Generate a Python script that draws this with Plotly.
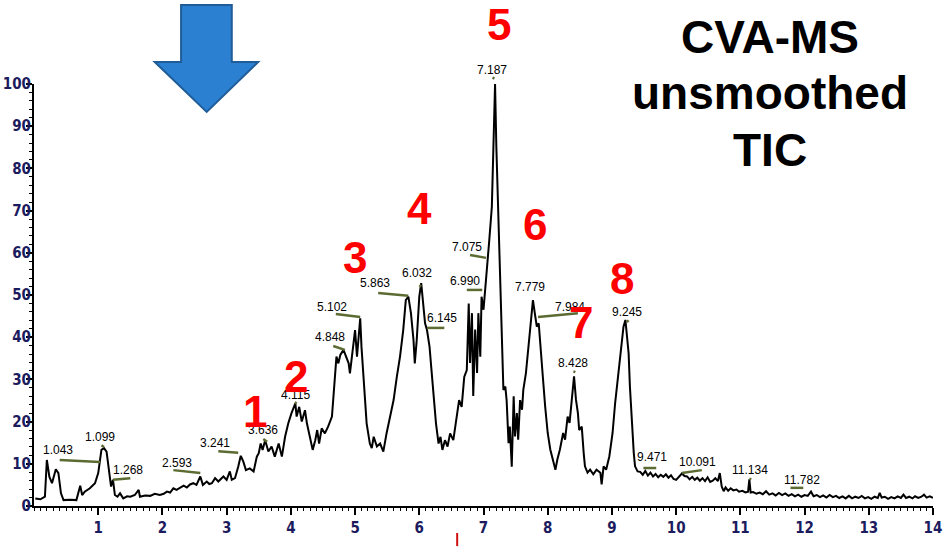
import plotly.graph_objects as go

# ---------------- data ----------------
retention_time = (
    [0.02, 0.10, 0.17, 0.20, 0.24, 0.28, 0.34, 0.38, 0.42, 0.46, 0.56, 0.66, 0.72, 0.75, 0.79, 0.87, 0.95, 1.00]
    + [1.05, 1.09, 1.13, 1.17, 1.20, 1.23, 1.26, 1.30, 1.34, 1.39, 1.45, 1.50, 1.57, 1.63, 1.65, 1.73, 1.81, 1.88, 1.96]
    + [2.02, 2.07, 2.12, 2.17, 2.22, 2.28, 2.33, 2.38, 2.43, 2.48, 2.53, 2.59, 2.63, 2.69, 2.73, 2.77, 2.82, 2.87, 2.91, 2.95, 3.00]
    + [3.05, 3.08, 3.13, 3.18, 3.22, 3.26, 3.30, 3.36, 3.42, 3.47, 3.50]
    + [3.53, 3.56, 3.60, 3.65, 3.70, 3.75, 3.81, 3.86, 3.91, 3.96, 4.01, 4.07, 4.09, 4.13, 4.17, 4.22, 4.25, 4.30, 4.34, 4.38, 4.41, 4.44, 4.48, 4.53, 4.58, 4.64, 4.66]
    + [4.69, 4.71, 4.74, 4.77, 4.82, 4.86, 4.90, 4.92, 4.95, 4.97, 5.00, 5.03, 5.05, 5.08, 5.10, 5.13, 5.16, 5.18, 5.23, 5.26, 5.29, 5.34, 5.39, 5.44, 5.49]
    + [5.54, 5.60, 5.65, 5.70, 5.75, 5.79, 5.83, 5.87, 5.91, 5.93, 5.96, 6.00, 6.03, 6.06, 6.09, 6.12, 6.16, 6.19, 6.22, 6.26, 6.30]
    + [6.33, 6.36, 6.40, 6.44, 6.48, 6.53, 6.58, 6.62, 6.66, 6.70, 6.74, 6.77]
    + [6.79, 6.82, 6.84, 6.87, 6.90, 6.92, 6.95, 6.97, 7.00, 7.03, 7.06, 7.09, 7.13, 7.16, 7.18]
    + [7.20, 7.23, 7.26, 7.28, 7.31, 7.34, 7.36, 7.39, 7.41, 7.44, 7.47, 7.49, 7.52, 7.54, 7.57, 7.60, 7.62, 7.66, 7.70, 7.74]
    + [7.77, 7.80, 7.83, 7.86, 7.88, 7.92, 7.96, 8.00, 8.04, 8.08, 8.12, 8.15, 8.19, 8.24, 8.27, 8.31, 8.34, 8.37, 8.41]
    + [8.44, 8.47, 8.49, 8.53, 8.56, 8.58, 8.62, 8.66, 8.71, 8.76, 8.82, 8.84, 8.87, 8.91, 8.96, 9.01, 9.05, 9.09, 9.12, 9.15, 9.18]
    + [9.21, 9.23, 9.26, 9.28, 9.31, 9.34, 9.36, 9.40]
    + [9.44, 9.48, 9.52, 9.56, 9.60, 9.64, 9.68, 9.72, 9.76, 9.80, 9.84, 9.88, 9.92, 9.96, 10.00, 10.04, 10.09, 10.13, 10.17, 10.21, 10.25, 10.29, 10.33, 10.37, 10.41, 10.45, 10.49, 10.53, 10.57, 10.61, 10.65, 10.68]
    + [10.71, 10.74, 10.77, 10.81, 10.85, 10.89, 10.94, 10.98, 11.03, 11.08, 11.12, 11.14, 11.16, 11.20, 11.25, 11.30, 11.35, 11.40, 11.45, 11.50, 11.55, 11.60, 11.65, 11.70, 11.75, 11.80, 11.85, 11.90, 11.95, 12.00]
    + [12.05, 12.10, 12.14, 12.19, 12.24, 12.29, 12.34, 12.39, 12.44, 12.49, 12.54, 12.59, 12.64, 12.69, 12.74, 12.79, 12.84, 12.89, 12.94, 12.99]
    + [13.04, 13.09, 13.14, 13.17, 13.20, 13.25, 13.30, 13.35, 13.40, 13.45, 13.50, 13.54, 13.58, 13.63, 13.68, 13.72, 13.77, 13.82, 13.86, 13.90, 13.95, 14.00]
)
intensity = (
    [1.8, 1.6, 2.2, 10.9, 6.9, 5.4, 8.7, 7.8, 3.0, 1.4, 1.5, 1.4, 4.8, 2.6, 3.4, 4.2, 5.4, 7.8]
    + [13.3, 13.7, 12.9, 7.8, 4.6, 6.2, 2.6, 2.2, 3.0, 1.8, 2.3, 2.2, 2.6, 3.8, 2.2, 2.5, 2.4, 2.9, 2.6]
    + [2.9, 3.4, 3.2, 4.2, 3.8, 4.3, 4.8, 4.4, 5.1, 5.4, 5.0, 7.0, 5.0, 5.8, 5.2, 5.4, 6.6, 5.8, 6.4, 7.0, 6.2]
    + [8.2, 6.2, 6.6, 9.3, 11.9, 10.5, 8.5, 8.9, 8.2, 11.7, 12.5]
    + [14.8, 13.3, 15.6, 12.9, 14.1, 11.7, 14.8, 11.7, 16.4, 19.6, 22.0, 24.3, 21.2, 23.5, 20.0, 22.7, 19.6, 16.4, 13.3, 15.6, 18.0, 14.8, 18.4, 17.2, 18.8, 21.2, 25.1]
    + [33.0, 35.4, 33.8, 35.8, 37.0, 35.4, 33.8, 31.4, 35.4, 38.5, 41.7, 35.4, 40.1, 44.5, 37.7, 30.6, 24.3, 19.6, 14.8, 13.7, 16.4, 14.1, 14.8, 12.9, 17.2]
    + [21.2, 25.1, 30.6, 35.4, 41.7, 48.8, 49.6, 45.7, 39.3, 33.8, 39.3, 49.6, 52.8, 48.8, 43.3, 41.7, 37.7, 32.2, 25.9, 19.6, 14.8]
    + [16.4, 13.3, 15.6, 14.1, 17.2, 15.6, 20.4, 25.1, 23.5, 30.6, 32.2, 48.0]
    + [33.9, 45.7, 26.1, 41.8, 31.5, 45.7, 35.4, 49.6, 46.5, 52.8, 56.7, 63.0, 70.9, 85.1, 100.0]
    + [85.2, 69.4, 53.6, 37.8, 27.5, 28.3, 25.1, 14.9, 18.8, 9.3, 26.0, 16.5, 22.0, 15.7, 25.1, 22.8, 27.5, 31.4, 37.8, 44.1]
    + [48.8, 45.6, 42.5, 43.3, 38.6, 31.4, 23.6, 17.3, 13.4, 11.0, 8.6, 11.0, 13.4, 17.3, 15.7, 21.2, 19.7, 24.4, 30.7]
    + [25.2, 22.0, 18.0, 18.8, 12.6, 9.4, 7.9, 8.6, 7.5, 8.6, 7.9, 5.1, 9.4, 8.6, 11.8, 17.3, 24.4, 29.9, 34.6, 39.4, 42.5]
    + [44.1, 41.5, 36.2, 28.3, 19.7, 12.6, 9.4, 8.2]
    + [8.1, 7.4, 8.3, 7.2, 7.9, 7.0, 7.6, 6.8, 7.4, 6.9, 7.5, 6.7, 7.3, 6.4, 6.2, 6.9, 7.7, 7.1, 7.0, 6.3, 6.9, 6.2, 6.7, 6.0, 6.6, 5.9, 6.8, 5.7, 6.0, 6.6, 5.9, 7.8]
    + [4.6, 3.5, 4.4, 3.6, 4.2, 3.7, 3.9, 3.4, 3.6, 3.2, 3.4, 6.3, 3.2, 3.3, 2.9, 3.2, 2.8, 3.5, 2.7, 3.0, 2.5, 3.1, 2.6, 3.0, 2.4, 2.8, 2.3, 2.7, 2.2, 2.6]
    + [2.4, 3.4, 2.3, 2.6, 2.1, 2.5, 2.0, 2.6, 2.1, 2.4, 1.9, 2.3, 1.8, 2.4, 1.8, 2.2, 1.9, 2.4, 1.8, 2.1]
    + [1.7, 2.2, 1.9, 3.1, 2.0, 2.2, 1.7, 2.1, 1.8, 2.3, 1.9, 2.7, 1.9, 2.2, 1.8, 2.3, 1.9, 2.2, 2.7, 2.0, 2.3, 1.9]
)
assert len(retention_time) == len(intensity)

x_tick_values = list(range(1, 15))
y_tick_values = list(range(0, 101, 10))

peak_label_texts = ["1.043", "1.099", "1.268", "2.593", "3.241", "3.636", "4.115", "4.848", "5.102",
                    "5.863", "6.032", "6.145", "6.990", "7.075", "7.187", "7.779", "7.984", "8.428",
                    "9.245", "9.471", "10.091", "11.134", "11.782"]
peak_numbers = ["1", "2", "3", "4", "5", "6", "7", "8"]
title_lines = ["CVA-MS", "unsmoothed", "TIC"]

# ---------------- layout positions (data units) ----------------
X_RANGE = [0, 14]
Y_RANGE = [0, 100]

peak_label_x = [0.37, 1.03, 1.46, 2.23, 2.82, 3.57, 4.07, 4.61, 4.64, 5.31, 5.97, 6.36, 6.71, 6.74,
                7.13, 7.73, 8.35, 8.40, 9.24, 9.63, 10.34, 11.15, 11.96]
peak_label_y = [13.3, 16.4, 8.5, 10.2, 14.9, 18.0, 26.3, 40.0, 47.2, 52.8, 55.2, 44.5, 53.3, 61.4,
                103.3, 51.9, 47.2, 33.9, 46.0, 11.6, 10.4, 8.5, 6.2]

# leader lines (x0, y0, x1, y1)
leader_lines = [
    (0.40, 10.9, 1.03, 10.4), (1.05, 14.4, 1.09, 14.0), (1.23, 6.2, 1.50, 6.6), (2.17, 8.5, 2.59, 7.8),
    (2.87, 13.0, 3.18, 12.6), (3.57, 15.9, 3.63, 15.2), (4.06, 24.6, 4.09, 24.3), (4.66, 37.9, 4.84, 37.0),
    (4.70, 45.5, 5.08, 44.8), (5.36, 50.5, 5.83, 49.8), (6.00, 52.3, 6.03, 52.0), (6.12, 42.2, 6.39, 42.2),
    (6.74, 51.2, 6.98, 51.2), (6.79, 59.5, 7.04, 58.8), (7.14, 101.5, 7.17, 101.3),
    (7.85, 44.8, 8.47, 45.7), (8.40, 31.9, 8.43, 31.7), (9.23, 44.0, 9.26, 43.6), (9.49, 9.0, 9.69, 9.0),
    (10.09, 7.8, 10.40, 8.5), (11.14, 6.5, 11.17, 6.3), (11.78, 4.3, 11.98, 4.3),
]

peak_number_x = [3.44, 4.08, 5.00, 6.00, 7.24, 7.80, 8.52, 9.16]
peak_number_y = [22.3, 30.8, 58.8, 70.6, 114.2, 66.6, 43.6, 54.0]

title_x = 11.46
title_y = [111.1, 97.9, 84.4]


def px(xv):
    return (xv - X_RANGE[0]) / (X_RANGE[1] - X_RANGE[0])


def py(yv):
    return (yv - Y_RANGE[0]) / (Y_RANGE[1] - Y_RANGE[0])


TICK_FONT = dict(family="Liberation Sans Narrow, DejaVu Sans Condensed, Arial Narrow, sans-serif",
                 size=15, color="#1b1b5e", weight="bold")

fig = go.Figure()
fig.add_trace(go.Scatter(x=retention_time, y=intensity, mode="lines",
                         line=dict(color="black", width=2), hoverinfo="skip", showlegend=False))

annotations = []
for t, xv, yv in zip(peak_label_texts, peak_label_x, peak_label_y):
    annotations.append(dict(text=t, x=px(xv), y=py(yv), xref="paper", yref="paper",
                            showarrow=False, xanchor="center", yanchor="middle",
                            font=dict(family="Liberation Sans, Arial, sans-serif", size=12, color="black")))
for t, xv, yv in zip(peak_numbers, peak_number_x, peak_number_y):
    annotations.append(dict(text=t, x=px(xv), y=py(yv), xref="paper", yref="paper",
                            showarrow=False, xanchor="center", yanchor="middle",
                            font=dict(family="Liberation Sans, Arial, sans-serif", size=44,
                                      color="#ff0000", weight="bold")))
for t, yv in zip(title_lines, title_y):
    annotations.append(dict(text=t, x=px(title_x), y=py(yv), xref="paper", yref="paper",
                            showarrow=False, xanchor="center", yanchor="middle",
                            font=dict(family="Liberation Sans, Arial, sans-serif", size=46,
                                      color="black", weight="bold")))

shapes = []
for (x0, y0, x1, y1) in leader_lines:
    shapes.append(dict(type="line", xref="paper", yref="paper",
                       x0=px(x0), y0=py(y0), x1=px(x1), y1=py(y1),
                       line=dict(color="#5b6b32", width=2.5)))

# blue arrow (data-unit outline converted to paper)
arrow_pts = [(1.88, 105.2), (2.29, 105.2), (2.29, 118.7), (3.08, 118.7), (3.08, 105.2), (3.49, 105.2), (2.69, 93.4)]
path = "M " + " L ".join(f"{px(a):.4f},{py(b):.4f}" for a, b in arrow_pts) + " Z"
shapes.append(dict(type="path", xref="paper", yref="paper", path=path,
                   fillcolor="#2b80d2", line=dict(color="#1f5c98", width=2)))

# small red marker below the axis
shapes.append(dict(type="line", xref="paper", yref="paper", x0=px(6.59), x1=px(6.59),
                   y0=py(-9.5), y1=py(-6.4), line=dict(color="#d01010", width=2)))

fig.update_layout(
    width=949, height=547,
    margin=dict(l=34, r=16, t=84, b=41),
    paper_bgcolor="white", plot_bgcolor="white",
    showlegend=False,
    annotations=annotations,
    shapes=shapes,
    xaxis=dict(range=X_RANGE, showgrid=False, zeroline=False, showline=True, automargin=False,
               linecolor="black", linewidth=2, ticks="outside", ticklen=7, tickwidth=1.5,
               tickcolor="black", tickvals=x_tick_values, ticktext=[str(v) for v in x_tick_values],
               tickfont=TICK_FONT,
               minor=dict(dtick=0.1, ticks="outside", ticklen=3, tickwidth=1, tickcolor="black", showgrid=False)),
    yaxis=dict(range=Y_RANGE, showgrid=False, zeroline=False, showline=True, automargin=False,
               linecolor="black", linewidth=2, ticks="outside", ticklen=6, tickwidth=1.5,
               tickcolor="black", tickvals=y_tick_values, ticktext=[str(v) for v in y_tick_values],
               tickfont=TICK_FONT, ticklabelstandoff=-8,
               minor=dict(dtick=2, ticks="outside", ticklen=3, tickwidth=1, tickcolor="black", showgrid=False)),
)

fig.write_html("out.html", config={"displayModeBar": False},
               post_script="document.body.style.margin='0';document.body.style.overflow='hidden';")
